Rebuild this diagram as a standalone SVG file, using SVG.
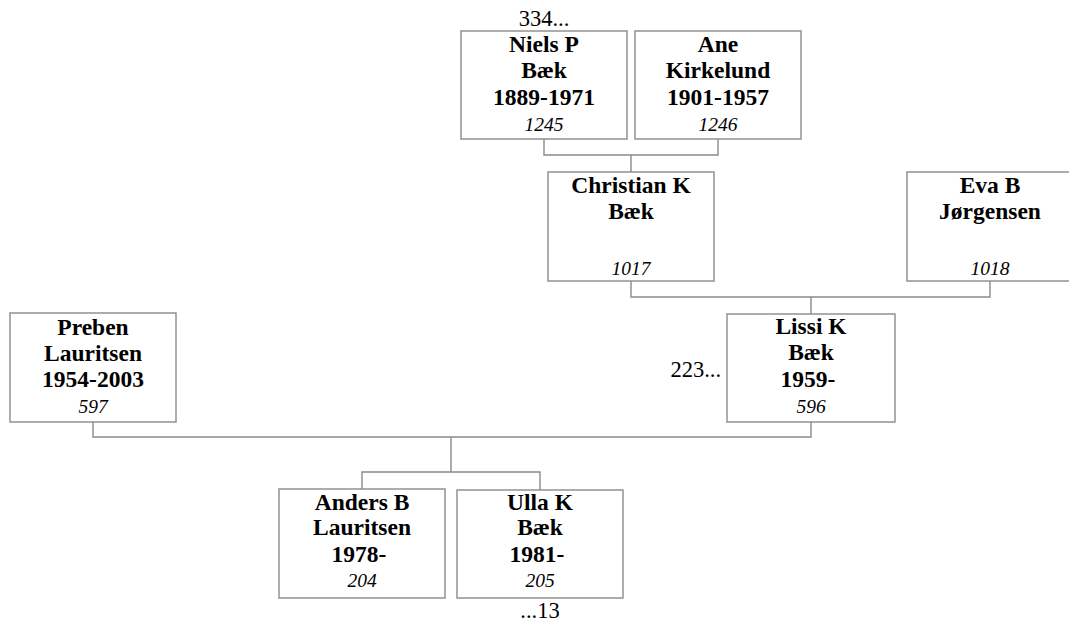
<svg xmlns="http://www.w3.org/2000/svg" width="1069" height="623" viewBox="0 0 1069 623">
<style>
rect.box{fill:#fff;stroke:#8a8a8a;stroke-width:1.4}
.c{fill:none;stroke:#8a8a8a;stroke-width:1.4}
text{font-family:"Liberation Serif","Times New Roman",serif;fill:#000;text-anchor:middle}
.n{font-size:23.5px;font-weight:bold}
.id{font-size:19.5px;font-style:italic}
.r{font-size:22.5px}
</style>
<rect width="1069" height="623" fill="#fff"/>
<g id="connectors">
<path class="c" d="M544,139 V155 H718 V139 M631,155 V172"/>
<path class="c" d="M631,281 V297 H990 V281 M811,297 V314"/>
<path class="c" d="M93,422 V437 H811 V422 M451,437 V472"/>
<path class="c" d="M362,489 V472 H540 V490"/>
</g>
<g id="niels">
<rect class="box" x="461" y="31" width="166" height="108"/>
<text class="r" x="544" y="26">334...</text>
<text class="n" x="544" y="52">Niels P</text>
<text class="n" x="544" y="78">Bæk</text>
<text class="n" x="544" y="105">1889-1971</text>
<text class="id" x="544" y="131">1245</text>
</g>
<g id="ane">
<rect class="box" x="635" y="31" width="166" height="108"/>
<text class="n" x="718" y="52">Ane</text>
<text class="n" x="718" y="78">Kirkelund</text>
<text class="n" x="718" y="105">1901-1957</text>
<text class="id" x="718" y="131">1246</text>
</g>
<g id="christian">
<rect class="box" x="548" y="172" width="166" height="109"/>
<text class="n" x="631" y="193">Christian K</text>
<text class="n" x="631" y="219">Bæk</text>
<text class="id" x="631" y="275">1017</text>
</g>
<g id="eva">
<rect class="box" x="907" y="172" width="166" height="109"/>
<text class="n" x="990" y="193">Eva B</text>
<text class="n" x="990" y="219">Jørgensen</text>
<text class="id" x="990" y="275">1018</text>
</g>
<g id="preben">
<rect class="box" x="10" y="313" width="166" height="109"/>
<text class="n" x="93" y="335">Preben</text>
<text class="n" x="93" y="361">Lauritsen</text>
<text class="n" x="93" y="387">1954-2003</text>
<text class="id" x="93" y="413">597</text>
</g>
<g id="lissi">
<rect class="box" x="727" y="314" width="168" height="108"/>
<text class="r" x="721" y="377" style="text-anchor:end">223...</text>
<text class="n" x="811" y="334">Lissi K</text>
<text class="n" x="811" y="360">Bæk</text>
<text class="n" x="808" y="387">1959-</text>
<text class="id" x="811" y="413">596</text>
</g>
<g id="anders">
<rect class="box" x="279" y="489" width="166" height="109"/>
<text class="n" x="362" y="510">Anders B</text>
<text class="n" x="362" y="535">Lauritsen</text>
<text class="n" x="359" y="562">1978-</text>
<text class="id" x="362" y="587">204</text>
</g>
<g id="ulla">
<rect class="box" x="457" y="490" width="166" height="108"/>
<text class="n" x="540" y="510">Ulla K</text>
<text class="n" x="540" y="535">Bæk</text>
<text class="n" x="537" y="562">1981-</text>
<text class="id" x="540" y="587">205</text>
<text class="r" x="540" y="618">...13</text>
</g>
</svg>
